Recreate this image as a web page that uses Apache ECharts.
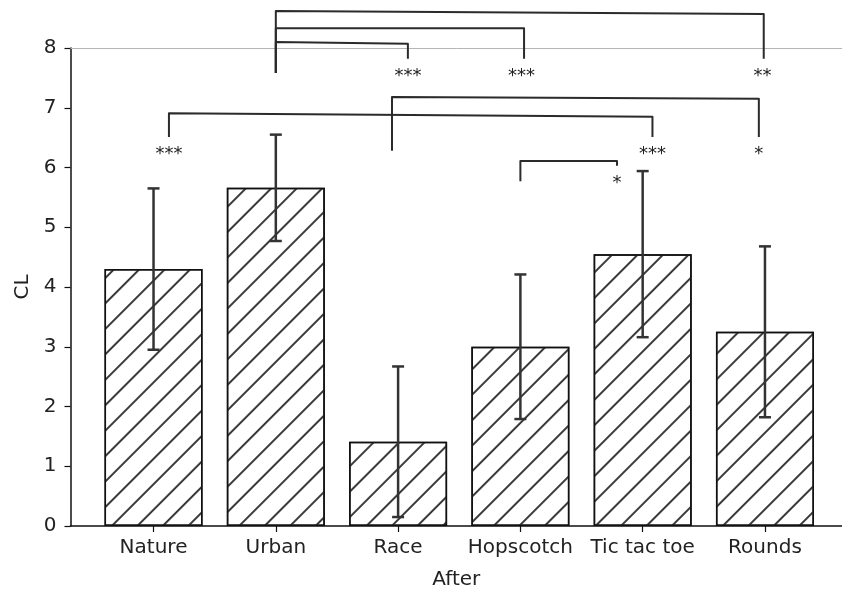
<!DOCTYPE html>
<html>
<head>
<meta charset="utf-8">
<script src="https://cdn.jsdelivr.net/npm/echarts@6/dist/echarts.min.js"></script>
<style>
html,body{margin:0;padding:0;background:#fff;overflow:hidden;}
#chart{width:842px;height:589px;}
</style>
</head>
<body>
<div id="chart"></div>
<script>
// ---- data ----
const categories = ['Nature', 'Urban', 'Race', 'Hopscotch', 'Tic tac toe', 'Rounds'];
const means = [4.30, 5.66, 1.41, 3.00, 4.55, 3.25];
const errors = [1.35, 0.89, 1.26, 1.21, 1.39, 1.43];
const yTickValues = [0, 1, 2, 3, 4, 5, 6, 7, 8];
const xTickValues = [0, 1, 2, 3, 4, 5];

// significance brackets, in data units (x = category index, y = CL)
const bracketPaths = [
  [[1.00, 7.58], [1.00, 8.10], [2.08, 8.07], [2.08, 7.82]],
  [[1.00, 7.58], [1.00, 8.33], [3.03, 8.33], [3.03, 7.82]],
  [[1.00, 7.58], [1.00, 8.62], [4.99, 8.57], [4.99, 7.82]],
  [[0.126, 6.51], [0.126, 6.91], [4.08, 6.85], [4.08, 6.51]],
  [[1.95, 6.28], [1.95, 7.18], [4.95, 7.15], [4.95, 6.51]],
  [[3.00, 5.77], [3.00, 6.11], [3.79, 6.11], [3.79, 6.03]]
];
const starTexts = ['***', '***', '**', '***', '***', '*', '*'];
const starX = [2.08, 3.01, 4.98, 0.126, 4.08, 4.95, 3.79];
const starY = [7.56, 7.56, 7.56, 6.26, 6.26, 6.26, 5.77];

const FONT = 'DejaVu Sans';
const chart = echarts.init(document.getElementById('chart'), null, {renderer: 'canvas'});

const option = {
  animation: false,
  backgroundColor: '#ffffff',
  grid: {left: 70.5, right: 0, top: 48, bottom: 63, outerBoundsMode: 'none', containLabel: false},
  xAxis: [{
    type: 'value',
    min: -0.679,
    max: 5.63,
    position: 'bottom',
    name: 'After',
    nameLocation: 'middle',
    nameGap: 44,
    nameTextStyle: {fontFamily: FONT, fontSize: 20, color: '#222'},
    axisLine: {show: true, onZero: false, lineStyle: {color: '#111', width: 1.5}},
    axisTick: {show: true, customValues: xTickValues, length: 6, lineStyle: {color: '#111', width: 1.2}},
    axisLabel: {
      show: true, customValues: xTickValues, margin: 12,
      fontFamily: FONT, fontSize: 20, color: '#222',
      formatter: v => categories[Math.round(v)] || ''
    },
    splitLine: {show: false}
  }, {
    type: 'value',
    min: -0.679,
    max: 5.63,
    position: 'top',
    axisLine: {show: true, onZero: false, lineStyle: {color: '#b5b5b5', width: 1}},
    axisTick: {show: false},
    axisLabel: {show: false},
    splitLine: {show: false}
  }],
  yAxis: {
    type: 'value',
    min: 0,
    max: 8,
    interval: 1,
    name: 'CL',
    nameLocation: 'middle',
    nameGap: 31,
    nameRotate: 90,
    nameTextStyle: {fontFamily: FONT, fontSize: 20, color: '#222'},
    axisLine: {show: true, onZero: false, lineStyle: {color: '#111', width: 1.5}},
    axisTick: {show: true, length: 6, lineStyle: {color: '#111', width: 1.2}},
    axisLabel: {margin: 14, fontFamily: FONT, fontSize: 20, color: '#222',
      formatter: v => yTickValues.indexOf(v) >= 0 ? String(v) : ''},
    splitLine: {show: false}
  },
  series: [
    {
      type: 'bar',
      xAxisIndex: 0,
      barWidth: 98,
      data: means.map((m, i) => [i, m]),
      itemStyle: {
        color: '#ffffff',
        borderColor: '#111',
        borderWidth: 1.5,
        decal: {
          symbol: 'rect',
          symbolSize: 1,
          color: '#3a3a3a',
          backgroundColor: null,
          dashArrayX: [1, 0],
          dashArrayY: [2, 16],
          rotation: -Math.PI / 4
        }
      },
      z: 2
    },
    {
      type: 'custom',
      xAxisIndex: 0,
      clip: false,
      z: 5,
      data: means.map((m, i) => [i, m + errors[i], m - errors[i]]),
      encode: {x: 0, y: [1, 2]},
      renderItem: function (params, api) {
        const x = api.value(0);
        const hi = api.coord([x, api.value(1)]);
        const lo = api.coord([x, api.value(2)]);
        const cap = 6;
        const st = {stroke: '#333', lineWidth: 2.5};
        return {
          type: 'group',
          children: [
            {type: 'line', shape: {x1: hi[0], y1: hi[1], x2: lo[0], y2: lo[1]}, style: st},
            {type: 'line', shape: {x1: hi[0] - cap, y1: hi[1], x2: hi[0] + cap, y2: hi[1]}, style: st},
            {type: 'line', shape: {x1: lo[0] - cap, y1: lo[1], x2: lo[0] + cap, y2: lo[1]}, style: st}
          ]
        };
      }
    },
    {
      type: 'custom',
      xAxisIndex: 0,
      clip: false,
      z: 6,
      data: bracketPaths.map(p => [p[0][0], p[0][1]]),
      encode: {x: 0, y: 1},
      renderItem: function (params, api) {
        const pts = bracketPaths[params.dataIndex].map(p => api.coord(p));
        return {
          type: 'polyline',
          shape: {points: pts},
          style: {stroke: '#2b2b2b', lineWidth: 2, fill: null, lineJoin: 'round'}
        };
      }
    },
    {
      type: 'custom',
      xAxisIndex: 0,
      clip: false,
      z: 7,
      data: starX.map((x, i) => [x, starY[i]]),
      encode: {x: 0, y: 1},
      renderItem: function (params, api) {
        const p = api.coord([api.value(0), api.value(1)]);
        return {
          type: 'text',
          x: p[0],
          y: p[1] + 2,
          style: {
            text: starTexts[params.dataIndex],
            fill: '#222',
            font: '18px "DejaVu Sans"',
            align: 'center',
            verticalAlign: 'middle'
          }
        };
      }
    }
  ]
};
chart.setOption(option);
</script>
</body>
</html>
